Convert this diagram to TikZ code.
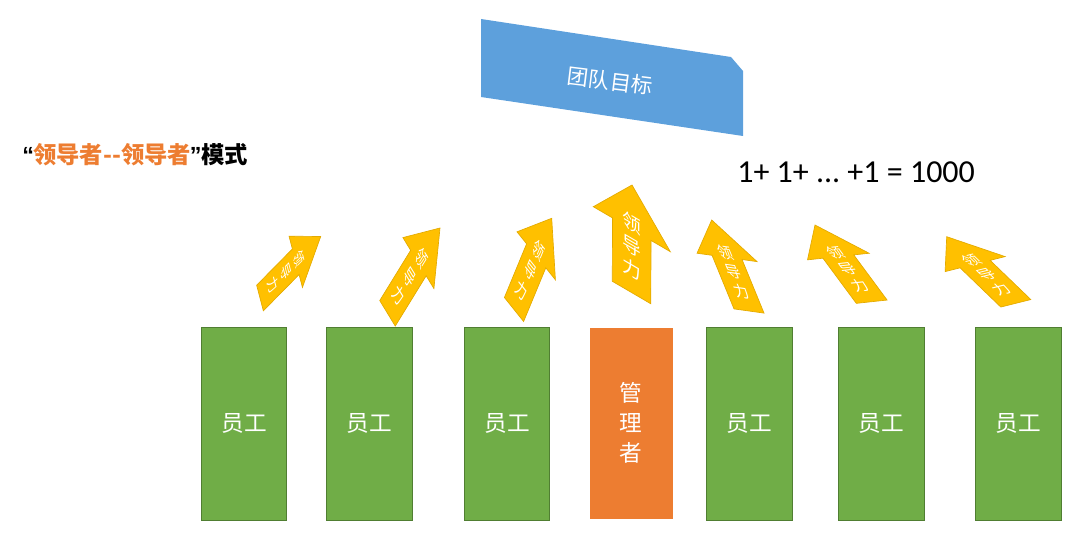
\documentclass[tikz,border=0pt]{standalone}
\usepackage{fontspec}
\setmainfont{Liberation Sans}
\newfontfamily\cjk{Noto Sans CJK SC}
\newfontfamily\calib{Carlito}
\definecolor{pgreen}{HTML}{70AD47}
\definecolor{pgreenline}{HTML}{507E32}
\definecolor{porange}{HTML}{ED7D31}
\definecolor{pblue}{HTML}{5DA0DC}
\definecolor{pgold}{HTML}{FFC000}
\definecolor{pgoldline}{HTML}{E3AA00}
\tikzset{
  staff/.style={draw=pgreenline, fill=pgreen, line width=0.6pt, minimum width=64pt,
    minimum height=144.75pt, inner sep=0pt, text=white, font=\cjk\fontsize{17}{20}\selectfont},
  mgr/.style={draw=porange, fill=porange, minimum width=61.5pt, minimum height=142.5pt,
    inner sep=0pt, text=white, align=center, font=\cjk\fontsize{17}{22.5}\selectfont},
  arrowbody/.style={fill=pgold, draw=pgoldline, line width=0.5pt, line join=miter},
  arrowchar/.style={text=white, inner sep=0pt, transform shape, align=center,
    font=\cjk\fontsize{18.5}{23}\selectfont},
}
\newcommand\leadarrow[7]{%
\begin{scope}
\pgfmathsetmacro\ma{0.75*(#6)/38}%
\pgfmathsetmacro\mb{-0.75*(#7)/38}%
\pgfmathsetmacro\mc{0.75*((#4)-(#2))/107}%
\pgfmathsetmacro\md{-0.75*((#5)-(#3))/107}%
\pgftransformcm{\ma}{\mb}{\mc}{\md}{\pgfpoint{0.75*(#2)*1pt}{-0.75*(#3)*1pt}}%
\begin{scope}[x=1pt,y=1pt]
\path[arrowbody] (-19,0) -- (19,0) -- (19,63) -- (38,63) -- (0,107) -- (-38,63) -- (-19,63) -- cycle;
\node[arrowchar] (#1) at (0,46) {领\\导\\力};
\end{scope}
\end{scope}}
\begin{document}
\begin{tikzpicture}[x=0.75pt,y=-0.75pt]
\useasboundingbox (0,0) rectangle (1080,545);
% team goal
\path[fill=pblue] (481,19) -- (731,57) -- (743,71) -- (743,136) -- (481,97) -- cycle;
\node[rotate=-7, text=white, inner sep=0pt, font=\cjk\fontsize{16}{18}\selectfont] (goal) at (610,81) {团队目标};
% title
\node[anchor=west, inner sep=0pt, font=\fontsize{17.5}{19}\selectfont] (title) at (22,155)
  {\bfseries “\kern-0.5pt{\cjk\bfseries\color{porange}领导者--领导者}\kern-1pt”{\cjk\bfseries 模式}};
% equation
\node[anchor=base west, inner sep=0pt, font=\calib\fontsize{24}{28}\selectfont] (eq) at (737,183) {1+ 1+ ...\ +1 = 1000};
% boxes
\node[staff] (s1) at (244,423.5) {员工};
\node[staff] (s2) at (369.5,423.5) {员工};
\node[staff] (s3) at (507,423.5) {员工};
\node[mgr] (m) at (631,423) {管\\理\\者};
\node[staff] (s5) at (749.5,423.5) {员工};
\node[staff] (s6) at (881.5,423.5) {员工};
\node[staff] (s7) at (1018.5,423.5) {员工};
% arrows
\leadarrow{a1}{260}{298}{320.7}{236.5}{6.7}{25.6}
\leadarrow{a2}{387.5}{313.3}{440}{228}{15.5}{25.5}
\leadarrow{a3}{514}{309.5}{551.7}{218.3}{19.2}{24}
\leadarrow{a4}{631.5}{292.5}{632}{185}{38.5}{22.5}
\leadarrow{a5}{749}{311}{711.7}{220}{30}{4.2}
\leadarrow{a6}{871.7}{301.7}{815}{225}{30.8}{-3.3}
\leadarrow{a7}{1015.8}{303.3}{946.7}{236.7}{30}{-7.5}
\end{tikzpicture}
\end{document}
